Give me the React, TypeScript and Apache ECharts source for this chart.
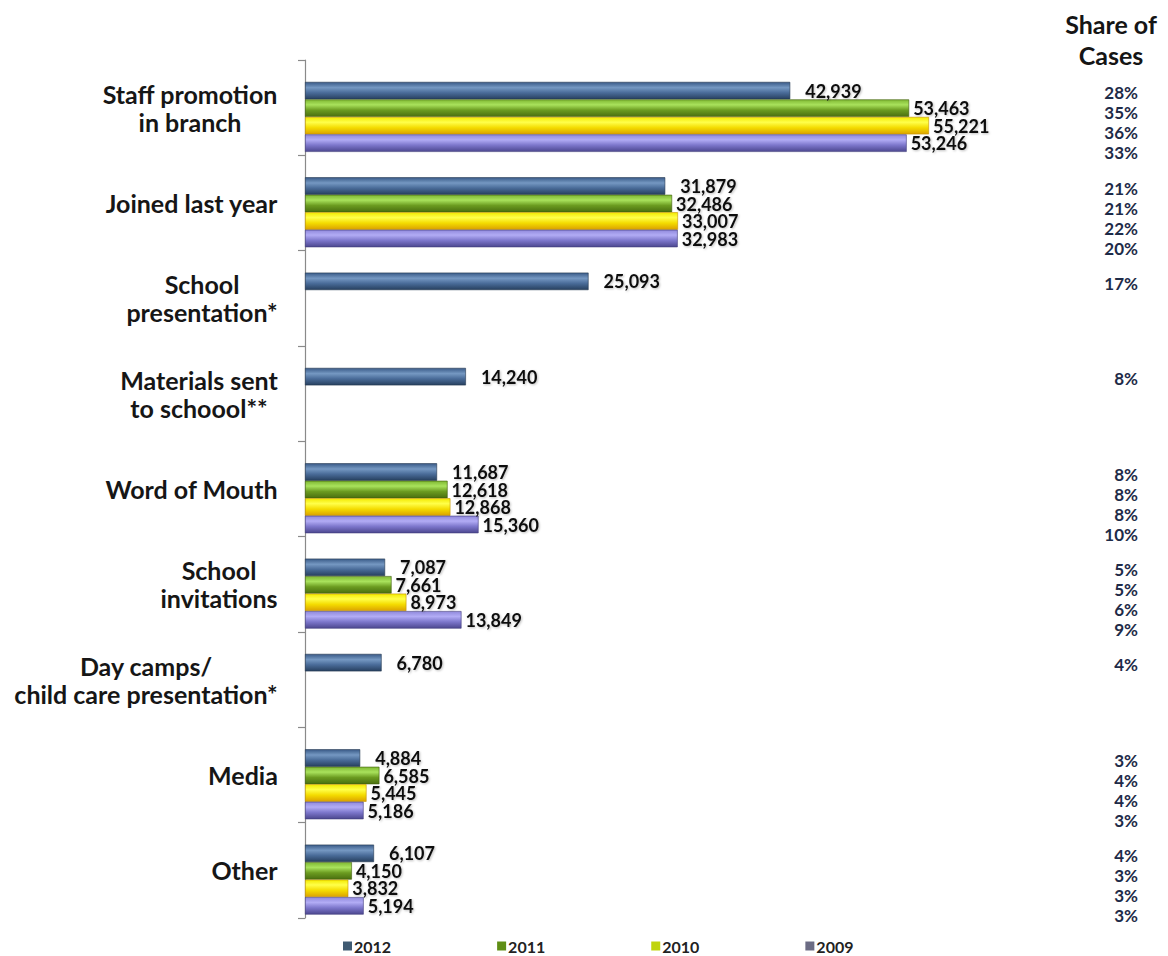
import React, { useEffect, useRef } from "react";
import * as echarts from "echarts";

const categories = [
  "Staff promotion\nin branch",
  "Joined last year",
  "School\npresentation*",
  "Materials sent\nto schoool**",
  "Word of Mouth",
  "School\ninvitations",
  "Day camps/\nchild care presentation*",
  "Media",
  "Other",
];

const years = ["2012", "2011", "2010", "2009"];

const cases2012 = [42939, 31879, 25093, 14240, 11687, 7087, 6780, 4884, 6107];
const cases2011 = [53463, 32486, null, null, 12618, 7661, null, 6585, 4150];
const cases2010 = [55221, 33007, null, null, 12868, 8973, null, 5445, 3832];
const cases2009 = [53246, 32983, null, null, 15360, 13849, null, 5186, 5194];

const share2012 = [28, 21, 17, 8, 8, 5, 4, 3, 4];
const share2011 = [35, 21, null, null, 8, 5, null, 4, 3];
const share2010 = [36, 22, null, null, 8, 6, null, 4, 3];
const share2009 = [33, 20, null, null, 10, 9, null, 3, 3];

const FONT = "Lato";

export default function App() {
  const ref = useRef<HTMLDivElement>(null);

  useEffect(() => {
    document.body.style.margin = "0";
    if (!ref.current) return;
    const chart = echarts.init(ref.current, null, { renderer: "svg" });

    const catSize = 25;
    const catFont = `700 ${catSize}px ${FONT}`;
    const canvas = document.createElement("canvas");
    const ctx = canvas.getContext("2d")!;
    ctx.font = catFont;
    const rich: Record<string, any> = {};
    categories.forEach((c, i) => {
      const w = Math.max(...c.split("\n").map((l) => ctx.measureText(l).width));
      rich["c" + i] = {
        width: Math.ceil(w) + 2,
        align: "center",
        fontFamily: FONT,
        fontWeight: 700,
        fontSize: catSize,
        lineHeight: 28,
        color: "#161616",
      };
    });

    const grad = (stops: [number, string][]) =>
      new echarts.graphic.LinearGradient(
        0,
        0,
        0,
        1,
        stops.map(([offset, color]) => ({ offset, color }))
      );

    const barStyles = [
      { stops: [[0, "#3a5b88"], [0.32, "#7598c2"], [0.62, "#4a6c99"], [1, "#27405f"]], border: "#22364f" },
      { stops: [[0, "#7fb833"], [0.3, "#a9e25c"], [0.62, "#6b9b20"], [1, "#4a6f10"]], border: "#3f5e0c" },
      { stops: [[0, "#f3ea00"], [0.3, "#ffff4a"], [0.62, "#f4dc00"], [1, "#dba200"]], border: "#c59200" },
      { stops: [[0, "#9089dc"], [0.3, "#b2acf5"], [0.62, "#7c76cb"], [1, "#4c478f"]], border: "#413c7c" },
    ] as { stops: [number, string][]; border: string }[];

    const dataSets = [cases2012, cases2011, cases2010, cases2009];
    const shares = [share2012, share2011, share2010, share2009];

    const barSeries: any[] = dataSets.map((d, k) => ({
      type: "bar",
      name: years[k],
      data: d,
      barWidth: 17.5,
      barGap: "0%",
      itemStyle: {
        color: grad(barStyles[k].stops),
        borderColor: barStyles[k].border,
        borderWidth: 0.6,
      },
      label: {
        show: true,
        position: "right",
        distance: k === 0 ? 15 : 4,
        formatter: (p: any) => Number(p.value).toLocaleString("en-US"),
        fontFamily: FONT,
        fontWeight: 700,
        fontSize: 18,
        color: "#111",
        textShadowColor: "rgba(0,0,0,0.25)",
        textShadowBlur: 2,
        textShadowOffsetX: 1,
        textShadowOffsetY: 1,
      },
    }));

    const spacer = {
      type: "bar",
      name: "spacer",
      data: categories.map(() => null),
      barWidth: 18.5,
      barGap: "0%",
      silent: true,
      itemStyle: { color: "transparent" },
    };

    const shareData: any[] = [];
    shares.forEach((arr, k) => {
      arr.forEach((v, i) => {
        if (v != null) shareData.push([0, i, k, v]);
      });
    });

    const shareSeries = {
      type: "custom",
      coordinateSystem: "cartesian2d",
      silent: true,
      encode: { x: 0, y: 1 },
      data: shareData,
      renderItem: (params: any, api: any) => {
        const cat = api.value(1);
        const k = api.value(2);
        const v = api.value(3);
        const c = api.coord([0, cat]);
        return {
          type: "text",
          x: 1138,
          y: c[1] - 15 + k * 20,
          style: {
            text: v + "%",
            textAlign: "right",
            textVerticalAlign: "middle",
            font: `700 17px ${FONT}`,
            fill: "#1e2b48",
          },
        };
      },
    };

    chart.setOption({
      animation: false,
      backgroundColor: "#ffffff",
      grid: { left: 305, top: 60, width: 678, height: 858, containLabel: false },
      xAxis: {
        type: "value",
        min: 0,
        max: 60000,
        show: false,
        splitLine: { show: false },
      },
      yAxis: {
        type: "category",
        data: categories,
        inverse: true,
        axisLine: { show: true, lineStyle: { color: "#8a8a8a", width: 1.2 } },
        axisTick: { show: true, length: 7, lineStyle: { color: "#8a8a8a", width: 1.2 } },
        axisLabel: {
          interval: 0,
          margin: 26,
          align: "right",
          formatter: (v: string, i: number) =>
            v
              .split("\n")
              .map((l) => `{c${i}|${l}}`)
              .join("\n"),
          rich,
        },
      },
      legend: {
        data: years.map((y, k) => ({
          name: y,
          itemStyle: { color: ["#3f5a72", "#5f8e14", "#c0d40c", "#6c6c84"][k], borderWidth: 0 },
        })),
        left: 343,
        top: 937,
        padding: 0,
        icon: "rect",
        itemWidth: 9,
        itemHeight: 9,
        itemGap: 106,
        textStyle: {
          fontFamily: FONT,
          fontWeight: 700,
          fontSize: 16,
          lineHeight: 18,
          color: "#222",
          padding: [0, 0, 0, -3],
        },
      },
      graphic: [
        {
          type: "text",
          x: 1111,
          y: 8,
          style: {
            text: "Share of\nCases",
            font: `700 25px ${FONT}`,
            lineHeight: 31,
            textAlign: "center",
            textVerticalAlign: "top",
            fill: "#151515",
            shadowColor: "rgba(0,0,0,0.3)",
            shadowBlur: 2,
            shadowOffsetX: 1,
            shadowOffsetY: 1,
          },
        },
      ],
      series: [spacer, ...barSeries, shareSeries],
    });

    return () => chart.dispose();
  }, []);

  return <div ref={ref} style={{ width: 1168, height: 956 }} />;
}
